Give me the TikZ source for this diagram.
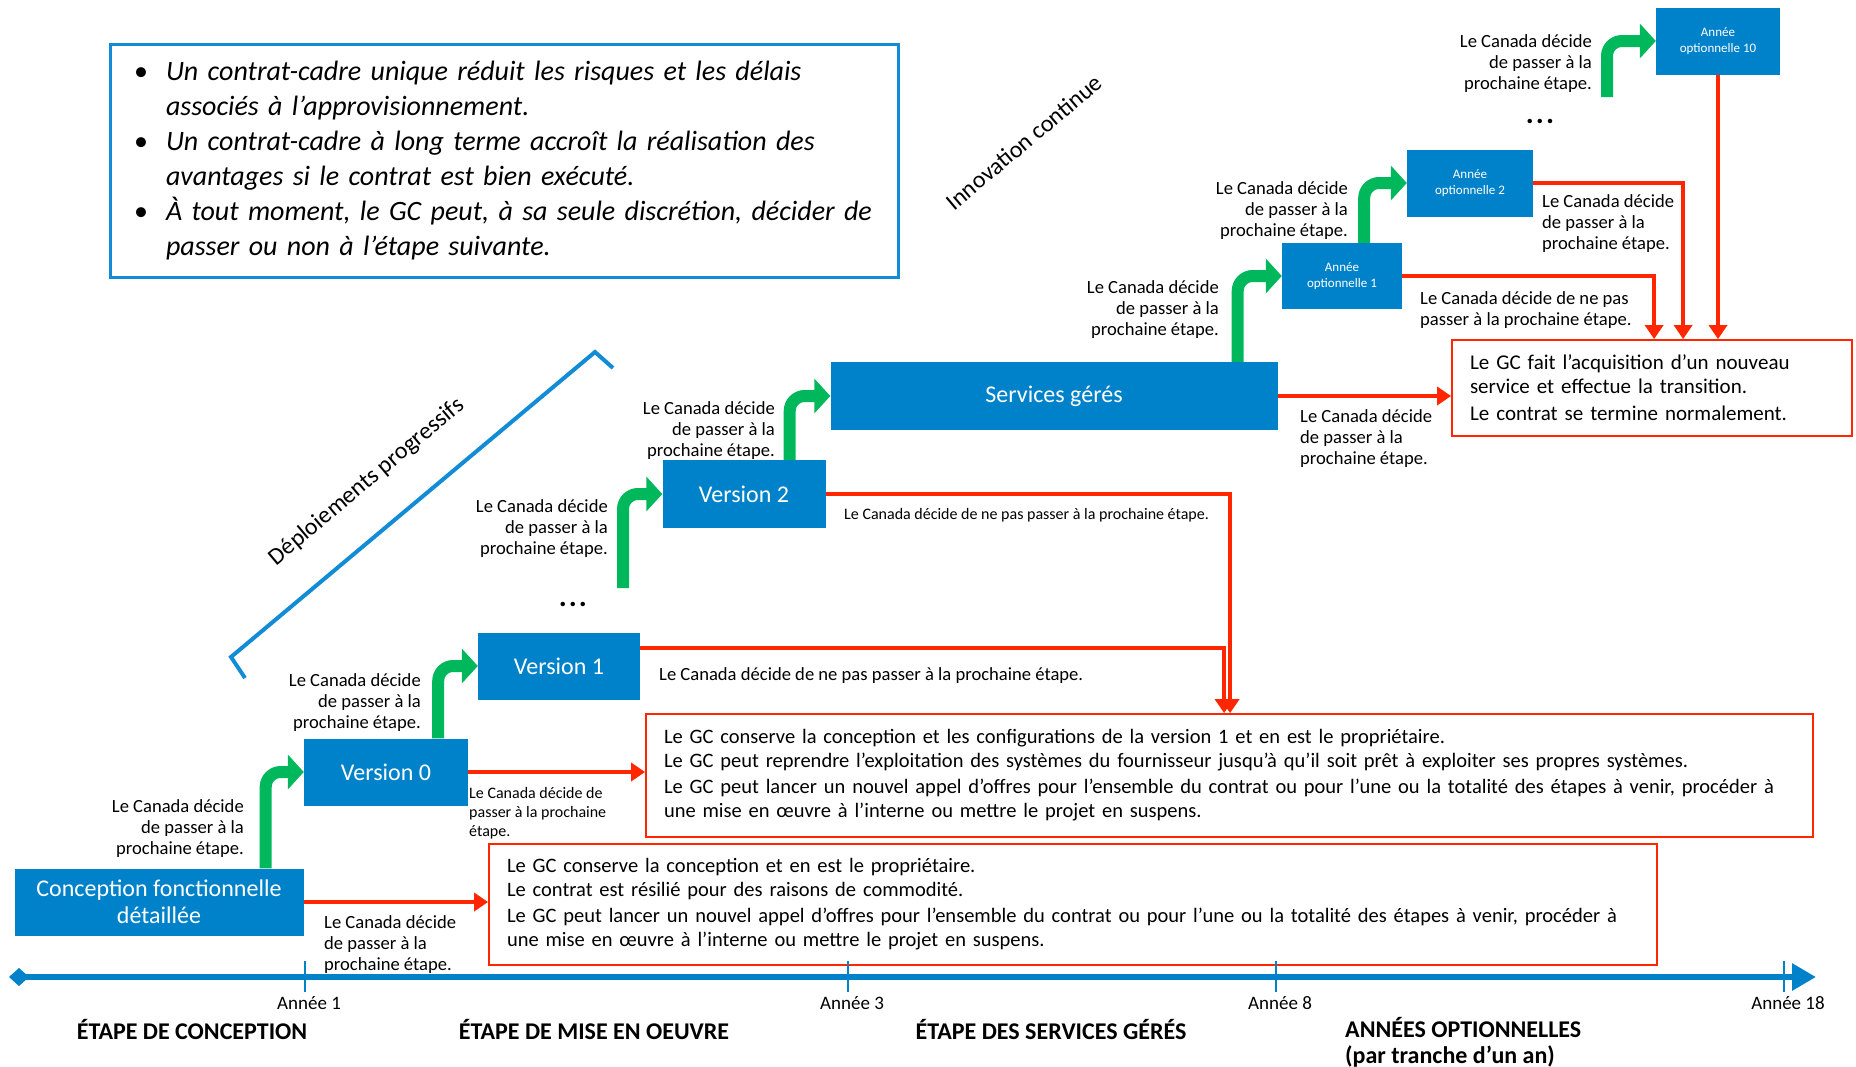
\documentclass[tikz,border=0pt]{standalone}
\usepackage{fontspec}
\setmainfont{Carlito}
\usepackage{xcolor}
\usetikzlibrary{arrows.meta, positioning, calc}

\definecolor{stageblue}{RGB}{0,130,202}
\definecolor{gogreen}{RGB}{0,184,92}
\definecolor{stopred}{RGB}{255,38,0}
\definecolor{spanblue}{RGB}{18,140,214}
\newcommand{\fsz}[2]{\fontsize{#1}{#2}\selectfont}

\begin{document}
\begin{tikzpicture}[
    x=1pt, y=-1pt,
    stage/.style={fill=stageblue, text=white, font=\fsz{24}{27}, align=center, inner sep=0pt},
    optbox/.style={stage, font=\fsz{13}{16.5}},
    outbox/.style={draw=stopred, line width=1.8pt, font=\fsz{20.5}{24}, align=left, inner xsep=18pt, inner ysep=0pt},
    lbl/.style={font=\fsz{18.6}{21}, inner sep=0pt},
    smlbl/.style={font=\fsz{16}{19}, inner sep=0pt, align=left},
    gostep/.style={draw=gogreen, line width=12pt, rounded corners=15pt, -{Triangle[length=16pt, width=34pt]}},
    stopline/.style={draw=stopred, line width=4pt, -{Triangle[length=14pt, width=18pt]}},
    timeline/.style={draw=stageblue, line width=6pt, {Diamond[length=20pt, width=18pt]}-{Triangle[length=24pt, width=26pt]}},
    tick/.style={draw=stageblue, line width=2.5pt},
    yearlbl/.style={font=\fsz{19}{21}, inner sep=0pt},
    phase/.style={font=\fsz{24}{26}\bfseries, inner sep=0pt},
    tilt/.style={font=\fsz{24}{26}, inner sep=0pt, rotate=40},
    dots/.style={font=\fsz{30}{30}\bfseries, inner sep=0pt},
]
\useasboundingbox (0,0) rectangle (1856,1066);

% === Key points ===
\node[draw=spanblue, line width=3pt, minimum width=788pt, minimum height=233pt, text width=740pt, align=left,
      font=\fsz{28}{35}\itshape, inner xsep=24pt, inner ysep=0pt] (notes) at (504,160.5)
    {\mbox{\makebox[32pt][l]{\upshape\textbullet}Un contrat-cadre unique réduit les risques et les délais}\\
     \mbox{\hspace*{32pt}associés à l’approvisionnement.}\\
     \mbox{\makebox[32pt][l]{\upshape\textbullet}Un contrat-cadre à long terme accroît la réalisation des}\\
     \mbox{\hspace*{32pt}avantages si le contrat est bien exécuté.}\\
     \mbox{\makebox[32pt][l]{\upshape\textbullet}À tout moment, le GC peut, à sa seule discrétion, décider de}\\
     \mbox{\hspace*{32pt}passer ou non à l’étape suivante.}};

% === Stages ===
\node[stage, minimum width=289pt, minimum height=67pt] (concept) at (159,902) {Conception fonctionnelle\\détaillée};
\node[stage, minimum width=164pt, minimum height=67pt] (v0) at (386,772) {Version 0};
\node[stage, minimum width=162pt, minimum height=67pt] (v1) at (559,666) {Version 1};
\node[stage, minimum width=163pt, minimum height=68pt] (v2) at (744,494) {Version 2};
\node[stage, minimum width=447pt, minimum height=68pt] (serv) at (1054,396) {Services gérés};
\node[optbox, minimum width=120pt, minimum height=66pt] (opt1) at (1342,276) {Année\\optionnelle 1};
\node[optbox, minimum width=126pt, minimum height=67pt] (opt2) at (1470,183) {Année\\optionnelle 2};
\node[optbox, minimum width=124pt, minimum height=67pt] (opt10) at (1718,41) {Année\\optionnelle 10};

\node[dots] (dotsv) at (573,604) {.\hspace{2pt}.\hspace{2pt}.};
\node[dots] (dotsopt) at (1540,121) {.\hspace{2pt}.\hspace{2pt}.};

% === Outcomes ===
\node[outbox, minimum width=1168pt, minimum height=121pt, text width=1132pt] (outA) at (1073,904.5)
    {Le GC conserve la conception et en est le propriétaire.\\
     Le contrat est résilié pour des raisons de commodité.\\[2pt]
     \mbox{Le GC peut lancer un nouvel appel d’offres pour l’ensemble du contrat ou pour l’une ou la totalité des étapes à venir, procéder à}\\
     une mise en œuvre à l’interne ou mettre le projet en suspens.};
\node[outbox, minimum width=1167pt, minimum height=123pt, text width=1131pt] (outB) at (1229.5,775.5)
    {Le GC conserve la conception et les configurations de la version 1 et en est le propriétaire.\\
     \mbox{Le GC peut reprendre l’exploitation des systèmes du fournisseur jusqu’à qu’il soit prêt à exploiter ses propres systèmes.}\\[2pt]
     \mbox{Le GC peut lancer un nouvel appel d’offres pour l’ensemble du contrat ou pour l’une ou la totalité des étapes à venir, procéder à}\\
     une mise en œuvre à l’interne ou mettre le projet en suspens.};
\node[outbox, font=\fsz{21}{24}, minimum width=400pt, minimum height=96pt, text width=364pt] (outC) at (1652,388)
    {Le GC fait l’acquisition d’un nouveau\\
     service et effectue la transition.\\[3pt]
     Le contrat se termine normalement.};

% === Go arrows ===
\coordinate (g2start) at (623,588);
\coordinate (g10start) at (1607,97);
\draw[gostep] ([xshift=-38pt]concept.north east) |- (v0.west);
\draw[gostep] ([xshift=-30pt]v0.north east) |- (v1.west);
\draw[gostep] (g2start) |- (v2.west);
\draw[gostep] ([xshift=-36pt]v2.north east) |- (serv.west);
\draw[gostep] ([xshift=-40pt]serv.north east) |- (opt1.west);
\draw[gostep] ([xshift=-38pt]opt1.north east) |- (opt2.west);
\draw[gostep] (g10start) |- (opt10.west);

% === Stop arrows ===
\draw[stopline] (concept.east) -- (concept.east -| outA.west);
\draw[stopline] (v0.east) -- (v0.east -| outB.west);
\draw[stopline] ([yshift=-16pt]v1.north east) -| ([xshift=579pt]outB.north west);
\draw[stopline] (v2.east) -| ([xshift=585pt]outB.north west);
\draw[stopline] (serv.east) -- (serv.east -| outC.west);
\draw[stopline] (opt1.east) -| ([xshift=203pt]outC.north west);
\draw[stopline] (opt2.east) -| ([xshift=232pt]outC.north west);
\draw[stopline] (opt10.south) -- (opt10.south |- outC.north);

% === Decision labels ===
\node[lbl, anchor=east, align=right] (lc0) at (244,829) {Le Canada décide\\de passer à la\\prochaine étape.};
\node[lbl, anchor=east, align=right] (l01) at (421,703) {Le Canada décide\\de passer à la\\prochaine étape.};
\node[lbl, anchor=east, align=right] (lx2) at (608,529) {Le Canada décide\\de passer à la\\prochaine étape.};
\node[lbl, anchor=east, align=right] (l2s) at (775,431) {Le Canada décide\\de passer à la\\prochaine étape.};
\node[lbl, anchor=east, align=right] (ls1) at (1219,310) {Le Canada décide\\de passer à la\\prochaine étape.};
\node[lbl, anchor=east, align=right] (l12) at (1348,211) {Le Canada décide\\de passer à la\\prochaine étape.};
\node[lbl, anchor=east, align=right] (lx10) at (1592,64) {Le Canada décide\\de passer à la\\prochaine étape.};

\node[lbl, anchor=west, align=left] (sa) at (324,945) {Le Canada décide\\de passer à la\\prochaine étape.};
\node[smlbl, anchor=west] (sb) at (469,813) {Le Canada décide de\\passer à la prochaine\\étape.};
\node[lbl, anchor=west] (sc) at (659,676) {Le Canada décide de ne pas passer à la prochaine étape.};
\node[smlbl, anchor=west] (sd) at (844,515) {Le Canada décide de ne pas passer à la prochaine étape.};
\node[lbl, anchor=west, align=left] (se) at (1300,439) {Le Canada décide\\de passer à la\\prochaine étape.};
\node[lbl, anchor=west, align=left] (sf) at (1420,310) {Le Canada décide de ne pas\\passer à la prochaine étape.};
\node[lbl, anchor=west, align=left] (sg) at (1542,224) {Le Canada décide\\de passer à la\\prochaine étape.};

% === Spans ===
\draw[spanblue, line width=4pt] (245,678) -- (231,657) -- (595,352) -- (613,368);
\node[tilt] (deploy) at (367,482) {Déploiements progressifs};
\node[tilt] (innov) at (1024,142) {Innovation continue};

% === Timeline ===
\coordinate (axl) at (9,977);
\coordinate (axr) at (1816,977);
\draw[timeline] (axl) -- (axr);
\foreach \tx/\yr in {305/1, 848/3, 1276/8, 1784/18} {
  \draw[tick] (\tx,961) -- (\tx,992);
  \node[yearlbl] (an\yr) at (\tx+4,1003) {Année \yr};
}
\node[phase] (ph1) at (192,1029) {ÉTAPE DE CONCEPTION};
\node[phase] (ph2) at (594,1029) {ÉTAPE DE MISE EN OEUVRE};
\node[phase] (ph3) at (1051,1029) {ÉTAPE DES SERVICES GÉRÉS};
\node[phase, anchor=west, align=left] (ph4) at (1345,1042) {ANNÉES OPTIONNELLES\\(par tranche d’un an)};

\end{tikzpicture}
\end{document}
